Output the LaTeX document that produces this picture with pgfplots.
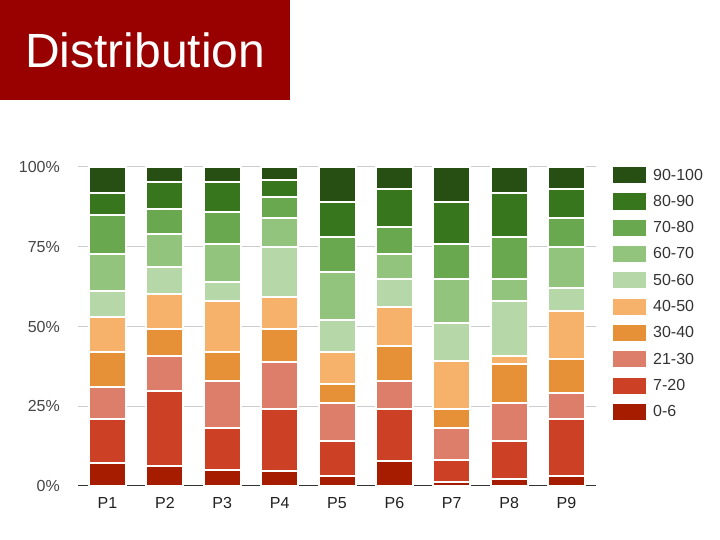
\documentclass[border=0pt]{standalone}
\usepackage{fontspec}
\setmainfont{Liberation Sans}
\usepackage{pgfplots}
\usepackage{pgfplotstable}
\pgfplotsset{compat=1.18}

\definecolor{titlered}{HTML}{990000}
\definecolor{c06}{HTML}{A61C00}
\definecolor{c720}{HTML}{CC4125}
\definecolor{c2130}{HTML}{DD7E6B}
\definecolor{c3040}{HTML}{E69138}
\definecolor{c4050}{HTML}{F6B26B}
\definecolor{c5060}{HTML}{B6D7A8}
\definecolor{c6070}{HTML}{93C47D}
\definecolor{c7080}{HTML}{6AA84F}
\definecolor{c8090}{HTML}{38761D}
\definecolor{c90100}{HTML}{274E13}

% share of each band per part (%)
\pgfplotstableread{
x  a06 a720 a2130 a3040 a4050 a5060 a6070 a7080 a8090 a90100
0  7.1 13.9 10.1  11.0  10.9  8.1   11.6  12.3  6.9   8.1
1  6.3 23.6 10.9  8.4   10.9  8.6   10.3  7.7   8.5   4.8
2  5.0 13.1 14.7  9.3   15.8  6.1   11.9  9.9   9.4   4.8
3  4.8 19.3 14.9  10.2  10.1  15.7  9.1   6.6   5.2   4.1
4  3.2 10.9 11.8  6.1   10.1  9.9   15.0  11.0  10.9  11.1
5  7.9 16.2 8.7   11.1  12.2  8.8   7.7   8.5   11.9  7.0
6  1.2 6.9  10.0  6.1   14.9  12.0  13.8  10.9  13.1  11.1
7  2.2 11.9 11.8  12.4  2.5   17.2  6.9   13.1  13.9  8.1
8  3.2 17.8 8.1   10.7  15.2  7.0   12.8  9.3   8.9   7.0
}\dist

\begin{document}
\begin{tikzpicture}
\path[use as bounding box] (0,0) rectangle (720bp,540bp);
\fill[titlered] (0,440bp) rectangle (290bp,540bp);
\node[anchor=base west, inner sep=0pt, text=white,
  font=\fontsize{48bp}{48bp}\selectfont] at (25bp,472bp) {Distribution};

\begin{axis}[
  at={(78bp,54bp)}, anchor=south west,
  scale only axis,
  width=518bp, height=319bp,
  ybar stacked,
  bar width=37bp,
  xmin=-0.514, xmax=8.514,
  ymin=0, ymax=100,
  xtick=data,
  xticklabels={P1,P2,P3,P4,P5,P6,P7,P8,P9},
  ytick={0,25,50,75,100},
  yticklabels={0\%,25\%,50\%,75\%,100\%},
  major tick length=0pt,
  axis line style={draw=none},
  ymajorgrids=true,
  grid style={draw=black!20, line width=1bp},
  tick label style={font=\fontsize{16bp}{16bp}\selectfont},
  yticklabel style={text=black!73, inner sep=0pt, xshift=-18bp},
  xticklabel style={text=black!87, inner sep=0pt, yshift=-11bp},
  reverse legend,
  legend cell align=left,
  legend image code/.code={\fill[#1, draw=none] (0bp,-8bp) rectangle (33bp,8bp);},
  legend style={at={(1.0328,1)}, anchor=north west, draw=none, fill=none,
    inner sep=0pt, row sep=10.3bp, text=black!80,
    font=\fontsize{16bp}{16bp}\selectfont,
    nodes={inner sep=0pt},
    /tikz/every odd column/.append style={column sep=7bp}},
  every axis plot/.append style={draw=white, line width=2bp},
]
\addplot[fill=c06]    table[x=x, y=a06]    {\dist};
\addplot[fill=c720]   table[x=x, y=a720]   {\dist};
\addplot[fill=c2130]  table[x=x, y=a2130]  {\dist};
\addplot[fill=c3040]  table[x=x, y=a3040]  {\dist};
\addplot[fill=c4050]  table[x=x, y=a4050]  {\dist};
\addplot[fill=c5060]  table[x=x, y=a5060]  {\dist};
\addplot[fill=c6070]  table[x=x, y=a6070]  {\dist};
\addplot[fill=c7080]  table[x=x, y=a7080]  {\dist};
\addplot[fill=c8090]  table[x=x, y=a8090]  {\dist};
\addplot[fill=c90100] table[x=x, y=a90100] {\dist};
\legend{0-6,7-20,21-30,30-40,40-50,50-60,60-70,70-80,80-90,90-100}
\draw[black!80, line width=1.5bp] (rel axis cs:0,0) -- (rel axis cs:1,0);
\end{axis}
\end{tikzpicture}
\end{document}
